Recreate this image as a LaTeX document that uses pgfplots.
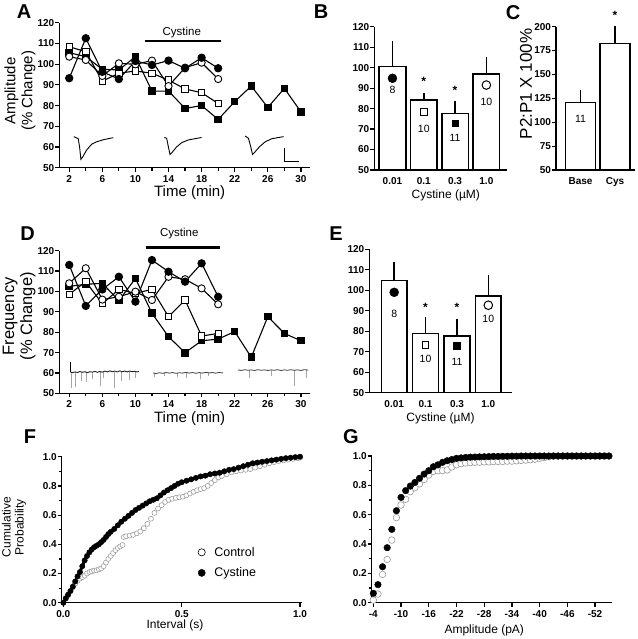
\documentclass[border=0pt]{standalone}
\usepackage{fontspec}
\setmainfont{Liberation Sans}
\usepackage{pgfplots}
\pgfplotsset{compat=1.18}

\pgfplotsset{
  panel/.style={
    scale only axis, anchor=south west,
    axis x line*=bottom, axis y line*=left,
    axis line style={line width=1.4pt},
    tick style={black, line width=1.2pt},
    tick align=outside,
    major tick length=4pt, minor tick length=3pt,
    tick label style={font=\fontsize{10}{12}\selectfont\bfseries},
    yticklabel style={xshift=2.5pt},
    /pgf/number format/assume math mode=true,
    xlabel style={anchor=center},
    ylabel style={anchor=center, align=center},
  },
  fc/.style={black, line width=1.1pt, mark=*, mark size=3.6pt, mark options={solid, fill=black}},
  oc/.style={black, line width=1.1pt, mark=*, mark size=3.6pt, mark options={solid, fill=white, line width=0.9pt}},
  fs/.style={black, line width=1.1pt, mark=square*, mark size=3.2pt, mark options={solid, fill=black}},
  os/.style={black, line width=1.1pt, mark=square*, mark size=3.2pt, mark options={solid, fill=white, line width=0.9pt}},
  bars/.style={ybar, bar width=#1, fill=white, draw=black, line width=1.5pt,
    error bars/.cd, y dir=plus, y explicit, error mark=none,
    error bar style={line width=1.5pt}},
  txt/.style={only marks, mark size=0pt, nodes near coords, point meta=explicit symbolic,
    nodes near coords style={anchor=center, font=#1}},
  dotlegend/.style={legend image code/.code={\draw[##1] plot[only marks] coordinates {(0.3cm,0cm)};}},
}

\begin{document}
\begin{tikzpicture}
\useasboundingbox (0,0) rectangle (637pt,-639pt);

% ---------------- A: amplitude time course
\begin{axis}[panel, at={(59.3pt,-167.7pt)}, width=250.7pt, height=145pt, clip=false,
  xmin=0.8, xmax=31.1, ymin=50, ymax=120,
  xtick={2,6,...,30}, minor xtick={4,8,...,28}, ytick={50,60,...,120},
  xlabel={Time (min)}, ylabel={Amplitude\\(\% Change)},
  xlabel style={at={(axis description cs:0.52,-0.17)}, font=\fontsize{15}{17}\selectfont},
  ylabel style={at={(axis description cs:-0.157,0.53)}, font=\fontsize{15}{17}\selectfont}]
\addplot[fs] coordinates {(2,105.5)(4,103.6)(6,97.5)(8,97.2)(10,103.6)(12,87)(14,87)(16,78.6)(18,80)(20,73.3)(22,81.9)(24,89.4)(26,79.1)(28,88.3)(30,77)};
\addplot[os] coordinates {(2,108.4)(4,106)(6,91.8)(8,95.6)(10,96.7)(12,95.6)(14,92.3)(16,88)(18,86.2)(20,81)};
\addplot[oc] coordinates {(2,103.6)(4,102)(6,94.3)(8,100.4)(10,99.9)(12,101.7)(14,89.4)(16,98.3)(18,100.7)(20,92.8)};
\addplot[fc] coordinates {(2,93.2)(4,112.5)(6,96.3)(8,92.8)(10,101.5)(12,99.6)(14,101.7)(16,98)(18,103.1)(20,98)};
% cystine application bar
\addplot[black, line width=2.6pt] coordinates {(11.2,111.1)(20.4,111.1)};
\addplot[txt=\fontsize{11.5}{13}\selectfont] coordinates {(15.6,115.3)[Cystine]};
% example EPSCs and scale bar
\addplot[black, line width=0.9pt] coordinates {(2.56,65.0)(3.09,64.0)(3.25,60.1)(3.41,54.0)(3.69,55.6)(4.10,58.5)(4.70,61.3)(5.31,62.5)(6.11,63.5)(7.32,64.5)};
\addplot[black, line width=0.9pt] coordinates {(13.5,64.6)(13.78,64.2)(13.98,60.1)(14.18,56.4)(14.5,57.7)(14.99,60.1)(15.6,62.1)(16.4,63.4)(18.0,64.6)};
\addplot[black, line width=0.9pt] coordinates {(23.26,65.3)(23.66,64.2)(23.94,60.1)(24.15,56.4)(24.47,57.7)(24.99,60.1)(25.68,62.5)(26.49,64.0)(27.9,65.0)};
\addplot[black, line width=1pt] coordinates {(28.0,59.3)(28.0,53.2)(29.8,53.2)};
\end{axis}

% ---------------- B: amplitude dose
\begin{axis}[panel, at={(374.3pt,-170pt)}, width=132.4pt, height=143.3pt, clip mode=individual,
  xmin=0.42, xmax=4.65, ymin=50, ymax=120,
  xtick={1,2,3,4}, xticklabels={0.01,0.1,0.3,1.0}, major x tick style={draw=none},
  ytick={50,60,...,120},
  xlabel={Cystine (µM)},
  xlabel style={at={(axis description cs:0.54,-0.18)}, font=\fontsize{12}{14}\selectfont}]
\addplot[bars=0.85] coordinates {(1,100.5) +- (0,12.7) (2,84.2) +- (0,3.2) (3,77.7) +- (0,6) (4,96.9) +- (0,8.4)};
\addplot[only marks, mark=*, mark size=4.5pt, fill=black] coordinates {(1,94.8)};
\addplot[only marks, mark=square*, mark size=3.3pt, fill=white, line width=1pt] coordinates {(2,78.2)};
\addplot[only marks, mark=square*, mark size=3.3pt, fill=black] coordinates {(3,72.8)};
\addplot[only marks, mark=*, mark size=4.3pt, fill=white, line width=1pt] coordinates {(4,91.5)};
\addplot[txt=\fontsize{10.5}{12}\selectfont] coordinates {(1,89)[8] (2,69.9)[10] (3,65.8)[11] (4,83.4)[10]};
\addplot[txt=\fontsize{12}{12}\selectfont\bfseries] coordinates {(2,93.5)[*] (3,89)[*]};
\end{axis}

% ---------------- C: paired-pulse ratio
\begin{axis}[panel, at={(556pt,-170pt)}, width=79pt, height=143.3pt, clip mode=individual,
  xmin=0.29, xmax=2.58, ymin=50, ymax=200,
  xtick={1,2}, xticklabels={Base,Cys}, major x tick style={draw=none},
  ytick={50,75,...,200},
  ylabel={P2:P1 X 100\%},
  ylabel style={at={(axis description cs:-0.38,0.6)}, font=\fontsize{17}{20}\selectfont}]
\addplot[bars=0.88] coordinates {(1,120.5) +- (0,13.2) (2,182.6) +- (0,19.1)};
\addplot[txt=\fontsize{10.5}{12}\selectfont] coordinates {(1,104)[11]};
\node[font=\fontsize{12}{12}\selectfont\bfseries] at (axis cs:2,212) {*};
\end{axis}

% ---------------- D: frequency time course
\begin{axis}[panel, at={(59.3pt,-393.3pt)}, width=250.7pt, height=142.6pt, clip=false,
  xmin=0.8, xmax=31.1, ymin=50, ymax=120,
  xtick={2,6,...,30}, minor xtick={4,8,...,28}, ytick={50,60,...,120},
  xlabel={Time (min)}, ylabel={Frequency\\(\% Change)},
  xlabel style={at={(axis description cs:0.52,-0.175)}, font=\fontsize{15}{17}\selectfont},
  ylabel style={at={(axis description cs:-0.16,0.54)}, font=\fontsize{16.5}{18}\selectfont}]
\addplot[fs] coordinates {(2,102.5)(4,103.5)(6,104)(8,95.5)(10,106.4)(12,89.3)(14,77.8)(16,69.9)(18,75.8)(20,76.6)(22,80.3)(24,67.7)(26,87.6)(28,79.4)(30,75.8)};
\addplot[os] coordinates {(2,98.6)(4,104.8)(6,94)(8,101)(10,99.1)(12,101)(14,87.6)(16,95.8)(18,78.1)(20,79.4)};
\addplot[oc] coordinates {(2,104)(4,111.4)(6,96)(8,97.4)(10,99.9)(12,95.8)(14,107.2)(16,106)(18,101.5)(20,93.7)};
\addplot[fc] coordinates {(2,113)(4,92.9)(6,101)(8,107.2)(10,95)(12,115.4)(14,109.7)(16,104.8)(18,113.8)(20,97.4)};
\addplot[black, line width=2.6pt] coordinates {(11.24,121.6)(20.2,121.6)};
\addplot[txt=\fontsize{11.5}{13}\selectfont] coordinates {(15.3,128.5)[Cystine]};
% example sEPSC traces
\addplot[gray!70, line width=0.5pt, unbounded coords=jump] coordinates {
  (2.25,60.5)(2.25,52.4) (2.3,nan) (2.7,60.5)(2.7,53) (2.8,nan) (3.5,60.5)(3.5,56) (3.6,nan)
  (4.1,60.5)(4.1,55.5) (4.2,nan) (4.8,60.5)(4.8,57) (4.9,nan) (5.7,60.5)(5.7,53.5) (5.8,nan)
  (6.1,60.5)(6.1,57.5) (6.2,nan) (7.5,60.5)(7.5,52.7) (7.6,nan) (8.3,60.5)(8.3,56) (8.4,nan)
  (9.3,60.5)(9.3,56.5) (9.4,nan) (10.0,60.5)(10.0,57.5)};
\addplot[gray!70, line width=0.5pt, unbounded coords=jump] coordinates {
  (12.3,60)(12.3,58) (12.4,nan) (13.5,60)(13.5,58.5) (13.6,nan) (15.1,60)(15.1,58)
  (15.2,nan) (16.1,60)(16.1,57.5) (16.2,nan) (17.8,60)(17.8,57) (17.9,nan) (18.8,60)(18.8,58.5)};
\addplot[gray!70, line width=0.5pt, unbounded coords=jump] coordinates {
  (23.8,61.3)(23.8,57.5) (23.9,nan) (26.4,61.3)(26.4,58.5) (26.5,nan) (29.2,61.3)(29.2,53.6)
  (29.3,nan) (30.7,61.3)(30.7,57.5)};
\addplot[black!85, line width=0.9pt] coordinates {(2.1,60.6)(2.4,60.1)(2.7,60.5)(3.0,60.2)(3.3,60.7)(3.6,60.3)(3.9,60.6)(4.2,60.1)(4.5,60.6)(4.8,60.4)(5.1,60.8)(5.4,60.3)(5.7,60.7)(6.0,60.4)(6.3,60.9)(6.6,60.5)(6.9,61.0)(7.2,60.6)(7.5,60.9)(7.8,60.5)(8.1,61.0)(8.4,60.6)(8.7,60.9)(9.0,60.5)(9.3,60.9)(9.6,60.6)(9.9,60.8)(10.2,60.5)(10.4,60.7)};
\addplot[black!75, line width=0.8pt] coordinates {(12.15,60.0)(12.5,59.7)(12.9,60.1)(13.3,59.8)(13.7,60.2)(14.1,59.9)(14.5,60.2)(14.9,59.8)(15.3,60.1)(15.7,59.9)(16.1,60.3)(16.5,59.9)(16.9,60.2)(17.3,59.8)(17.7,60.2)(18.1,59.9)(18.5,60.3)(18.9,60.0)(19.3,60.2)(19.7,59.9)(20.1,60.2)(20.6,60.0)};
\addplot[black!75, line width=0.8pt] coordinates {(22.4,61.5)(22.8,61.2)(23.2,61.6)(23.6,61.3)(24.0,61.5)(24.4,61.2)(24.8,61.6)(25.2,61.3)(25.6,61.5)(26.0,61.2)(26.4,61.5)(26.8,61.3)(27.2,61.6)(27.6,61.2)(28.0,61.5)(28.4,61.3)(28.8,61.6)(29.2,61.3)(29.6,61.5)(30.0,61.2)(30.4,61.6)(30.9,61.4)};
\addplot[black, line width=1pt] coordinates {(2.15,60.6)(2.15,65.5)};
\end{axis}

% ---------------- E: frequency dose
\begin{axis}[panel, at={(369.3pt,-392.7pt)}, width=142.4pt, height=143.4pt, clip mode=individual,
  xmin=0.207, xmax=4.745, ymin=50, ymax=120,
  xtick={1,2,3,4}, xticklabels={0.01,0.1,0.3,1.0}, major x tick style={draw=none},
  ytick={50,60,...,120},
  xlabel={Cystine (µM)},
  xlabel style={at={(axis description cs:0.5,-0.178)}, font=\fontsize{12}{14}\selectfont}]
\addplot[bars=0.82] coordinates {(1,104.7) +- (0,9.3) (2,79) +- (0,7.8) (3,77.7) +- (0,8.2) (4,97.2) +- (0,10.1)};
\addplot[only marks, mark=*, mark size=4.5pt, fill=black] coordinates {(1,99)};
\addplot[only marks, mark=square*, mark size=3.3pt, fill=white, line width=1pt] coordinates {(2,73.3)};
\addplot[only marks, mark=square*, mark size=3.3pt, fill=black] coordinates {(3,73)};
\addplot[only marks, mark=*, mark size=4.3pt, fill=white, line width=1pt] coordinates {(4,92.7)};
\addplot[txt=\fontsize{10.5}{12}\selectfont] coordinates {(1,88.7)[8] (2,66.3)[10] (3,65.2)[11] (4,85.8)[10]};
\addplot[txt=\fontsize{12}{12}\selectfont\bfseries] coordinates {(2,91.8)[*] (3,91.8)[*]};
\end{axis}

% ---------------- F: inter-event interval distribution
\begin{axis}[panel, at={(61.7pt,-602.7pt)}, width=240pt, height=146pt, clip=false,
  xmin=-0.007, xmax=1.007, ymin=0, ymax=1,
  xtick={0,0.5,1}, xticklabels={0.0,0.5,1.0},
  ytick={0,0.2,0.4,0.6,0.8,1}, yticklabels={0.0,0.2,0.4,0.6,0.8,1.0},
  minor ytick={0.1,0.3,0.5,0.7,0.9},
  xlabel={Interval (s)}, ylabel={Cumulative\\Probability},
  xlabel style={at={(axis description cs:0.472,-0.158)}, font=\fontsize{12}{14}\selectfont},
  ylabel style={at={(axis description cs:-0.199,0.518)}, font=\fontsize{12}{13}\selectfont},
  legend style={draw=none, fill=none, at={(axis description cs:0.555,0.41)}, anchor=north west,
    font=\fontsize{12.5}{14}\selectfont, row sep=6pt,
    /tikz/every odd column/.append style={column sep=7pt}},
  legend cell align=left,
  legend image post style={mark size=3.6pt, every mark/.append style={draw=black}}]
\addplot[only marks, mark=*, mark size=2.5pt, mark options={fill=white, draw=gray!75, line width=0.6pt}] coordinates {
 (0.000,0.000)(0.010,0.025)(0.020,0.050)(0.030,0.080)(0.040,0.105)(0.050,0.130)(0.060,0.150)
 (0.070,0.165)(0.080,0.175)(0.090,0.185)(0.100,0.200)(0.110,0.210)(0.120,0.215)(0.130,0.220)
 (0.140,0.222)(0.150,0.228)(0.160,0.235)(0.170,0.250)(0.180,0.275)(0.190,0.300)(0.200,0.320)
 (0.210,0.340)(0.220,0.360)(0.230,0.375)(0.240,0.385)(0.250,0.395)(0.255,0.450)(0.265,0.455)
 (0.280,0.460)(0.295,0.465)(0.310,0.475)(0.325,0.488)(0.340,0.510)(0.355,0.540)(0.370,0.575)
 (0.385,0.615)(0.400,0.645)(0.415,0.668)(0.430,0.690)(0.445,0.705)(0.460,0.712)(0.475,0.718)
 (0.490,0.722)(0.505,0.726)(0.520,0.735)(0.535,0.748)(0.550,0.760)(0.565,0.770)(0.580,0.778)
 (0.595,0.785)(0.610,0.800)(0.625,0.820)(0.640,0.840)(0.655,0.858)(0.670,0.868)(0.690,0.880)
 (0.710,0.893)(0.730,0.900)(0.750,0.905)(0.770,0.910)(0.790,0.915)(0.810,0.925)(0.830,0.935)
 (0.850,0.945)(0.870,0.955)(0.890,0.963)(0.910,0.970)(0.930,0.975)(0.950,0.980)(0.970,0.985)
 (0.990,0.990)(1.000,0.993)};
\addlegendentry{Control}
\addplot[black, line width=3pt, mark=*, mark size=2.7pt, mark options={fill=black, draw=black, line width=0.4pt}, dotlegend] coordinates {
 (0.000,0.000)(0.010,0.030)(0.020,0.055)(0.030,0.080)(0.040,0.110)(0.050,0.145)(0.060,0.180)
 (0.070,0.210)(0.080,0.250)(0.090,0.290)(0.100,0.320)(0.110,0.345)(0.120,0.365)(0.130,0.380)
 (0.140,0.390)(0.150,0.400)(0.160,0.415)(0.170,0.430)(0.180,0.450)(0.190,0.470)(0.200,0.485)
 (0.215,0.505)(0.230,0.530)(0.245,0.555)(0.260,0.575)(0.275,0.595)(0.290,0.615)(0.305,0.635)
 (0.320,0.650)(0.335,0.665)(0.350,0.680)(0.365,0.695)(0.380,0.705)(0.395,0.715)(0.410,0.735)
 (0.425,0.755)(0.440,0.770)(0.455,0.785)(0.470,0.800)(0.485,0.815)(0.500,0.825)(0.520,0.835)
 (0.540,0.845)(0.560,0.855)(0.580,0.865)(0.600,0.870)(0.620,0.880)(0.640,0.885)(0.660,0.890)
 (0.680,0.900)(0.700,0.910)(0.720,0.915)(0.740,0.925)(0.760,0.935)(0.780,0.945)(0.800,0.955)
 (0.820,0.960)(0.840,0.965)(0.860,0.970)(0.880,0.975)(0.900,0.980)(0.920,0.985)(0.940,0.990)
 (0.960,0.993)(0.980,0.997)(1.000,1.000)};
\addlegendentry{Cystine}
\end{axis}

% ---------------- G: amplitude distribution
\begin{axis}[panel, at={(371.7pt,-602.7pt)}, width=240pt, height=146.7pt, clip=false,
  x dir=reverse, xmin=-55.6, xmax=-3.65, ymin=0, ymax=1,
  xtick={-4,-10,-16,-22,-28,-34,-40,-46,-52},
  xticklabels={-4,-10,-16,-22,-28,-34,-40,-46,-52},
  ytick={0,0.2,0.4,0.6,0.8,1}, yticklabels={0.0,0.2,0.4,0.6,0.8,1.0},
  minor ytick={0.1,0.3,0.5,0.7,0.9},
  xlabel={Amplitude (pA)},
  xlabel style={at={(axis description cs:0.469,-0.188)}, font=\fontsize{12}{14}\selectfont}]
\addplot[only marks, mark=*, mark size=3.3pt, mark options={fill=white, draw=gray!80, line width=0.6pt}] coordinates {
 (-4,0.018)(-5,0.059)(-6,0.193)(-7,0.295)(-8,0.427)(-9,0.58)(-10,0.666)(-11,0.705)(-12,0.757)
 (-13,0.784)(-14,0.81)(-15,0.84)(-16,0.87)(-17,0.895)(-18,0.9)(-19,0.9)(-20,0.905)(-21,0.925)
 (-22,0.94)(-23,0.948)(-24,0.952)(-25,0.955)(-26,0.957)(-27,0.958)(-28,0.96)(-29,0.96)
 (-30,0.962)(-31,0.963)(-32,0.963)(-33,0.965)(-34,0.965)(-35,0.967)(-36,0.97)(-37,0.972)
 (-38,0.975)(-39,0.978)(-40,0.985)(-41,0.99)(-42,0.995)(-43,1)(-44,1)(-45,1)(-46,1)(-47,1)
 (-48,1)(-49,1)(-50,1)(-51,1)(-52,1)(-53,1)(-54,1)(-55,1)};
\addplot[only marks, mark=*, mark size=3.3pt, mark options={fill=black, draw=black}] coordinates {
 (-4,0.064)(-5,0.123)(-6,0.245)(-7,0.375)(-8,0.5)(-9,0.627)(-10,0.718)(-11,0.764)(-12,0.795)
 (-13,0.82)(-14,0.848)(-15,0.877)(-16,0.9)(-17,0.927)(-18,0.94)(-19,0.957)(-20,0.968)
 (-21,0.976)(-22,0.984)(-23,0.987)(-24,0.99)(-25,0.992)(-26,0.993)(-27,0.994)(-28,0.995)
 (-29,0.996)(-30,0.997)(-31,0.997)(-32,0.998)(-33,0.998)(-34,0.999)(-35,0.999)(-36,1)(-37,1)
 (-38,1)(-39,1)(-40,1)(-41,1)(-42,1)(-43,1)(-44,1)(-45,1)(-46,1)(-47,1)(-48,1)(-49,1)(-50,1)
 (-51,1)(-52,1)(-53,1)(-54,1)(-55,1)};
\end{axis}

% panel letters
\begin{scope}[every node/.style={font=\fontsize{20}{22}\selectfont\bfseries}]
\node at (24pt,-12pt) {A};
\node at (321pt,-12pt) {B};
\node at (513pt,-12.5pt) {C};
\node at (27.5pt,-234pt) {D};
\node at (336pt,-234pt) {E};
\node at (30pt,-437pt) {F};
\node at (351pt,-437pt) {G};
\end{scope}
\end{tikzpicture}
\end{document}
